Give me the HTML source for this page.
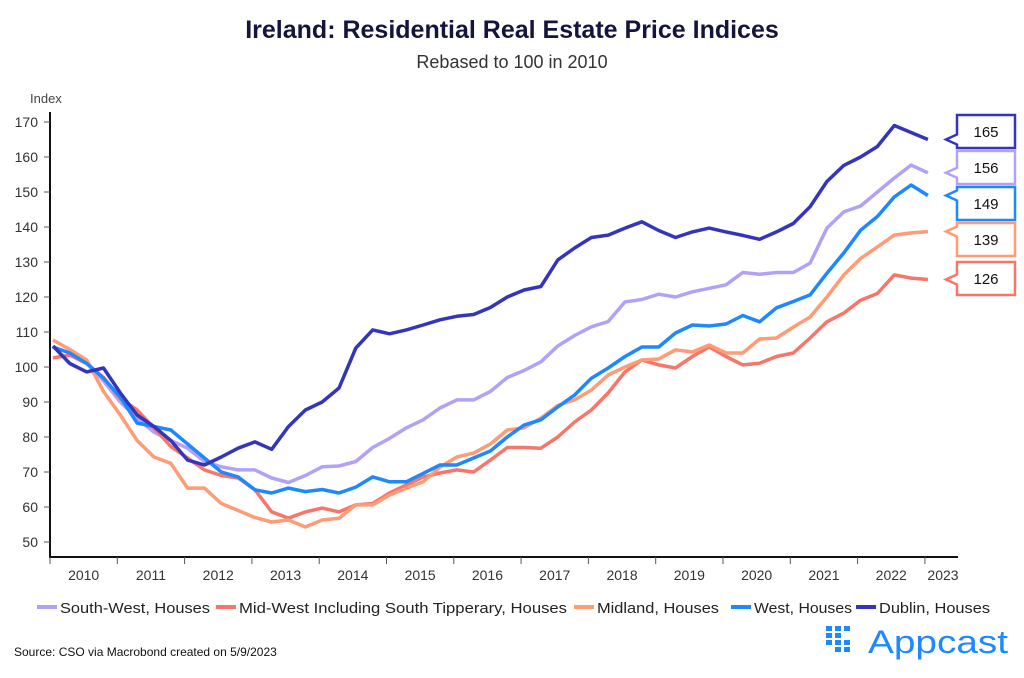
<!DOCTYPE html>
<html><head><meta charset="utf-8"><style>
body{margin:0;background:#fff;width:1024px;height:673px;overflow:hidden;font-family:"Liberation Sans",sans-serif}
svg text{font-family:"Liberation Sans",sans-serif}
</style></head><body>
<svg id="c" width="1024" height="673">
<text x="512" y="38" text-anchor="middle" font-size="25" font-weight="bold" fill="#14143c">Ireland: Residential Real Estate Price Indices</text>
<text x="512" y="68" text-anchor="middle" font-size="18" fill="#333">Rebased to 100 in 2010</text>
<text x="30" y="103" font-size="13" fill="#444">Index</text>
<g id="axes"></g><g id="series"></g><g id="tags"></g>
<g font-size="15" fill="#222" id="legend"></g>
<text x="14" y="656" font-size="12" fill="#111">Source: CSO via Macrobond created on 5/9/2023</text>
<g>
<g fill="#1E88FF" id="dots"></g>
<text x="868" y="653" font-size="32" fill="#1E88FF" textLength="140" lengthAdjust="spacingAndGlyphs">Appcast</text>
</g>
</svg>
<script>
const years=["2010","2011","2012","2013","2014","2015","2016","2017","2018","2019","2020","2021","2022","2023"];
const yTicks=[50,60,70,80,90,100,110,120,130,140,150,160,170];
const names=["South-West, Houses","Mid-West Including South Tipperary, Houses","Midland, Houses","West, Houses","Dublin, Houses"];
const colors=["#B3A1F7","#F7766A","#FF9B75","#1E88FF","#3535BB"];
const southWest=[105.7,104,101.5,96,90,85.4,81.4,79,76.8,73,71.5,70.6,70.6,68.3,67,69,71.5,71.7,73,77,79.6,82.6,84.9,88.3,90.6,90.6,93,97,99,101.5,106,109,111.5,113,118.6,119.3,120.8,120,121.5,122.5,123.5,127,126.5,127,127,129.7,139.7,144.3,146,150,154,157.7,155.5];
const midWest=[102.6,103.4,101,97,91,87.7,82.6,77.3,74,70.6,69,68.3,64.9,58.6,56.8,58.6,59.7,58.6,60.6,61,64,66.3,68.6,69.7,70.6,70,73.4,77,77,76.8,80,84.3,87.7,92.6,98.6,102,100.6,99.7,103,105.7,103,100.6,101.1,103,104,108.3,112.9,115.4,119.1,121,126.3,125.4,125];
const midland=[107.7,105,102,93,86.3,79,74.3,72.5,65.4,65.4,61,59,57,55.7,56.3,54.3,56.3,56.8,60.6,60.6,63.4,65.4,67.2,71.4,74.3,75.4,78,82,82.6,85.4,89,90.6,93.4,97.7,100,102,102.3,104.9,104.3,106.3,104,104,108,108.3,111.4,114.3,120,126.3,131,134.3,137.7,138.3,138.7];
const west=[105.7,104,101,96.8,91.4,84,83,82,78,74,70,68.6,64.9,64,65.4,64.4,65,64,65.7,68.6,67.2,67.2,69.6,72,72,74,76,80,83.4,84.9,88.6,92,96.8,99.7,103,105.7,105.7,109.7,112,111.7,112.3,114.7,112.9,116.9,118.7,120.6,126.8,132.6,139.1,143,148.6,152,149];
const dublin=[106,101,98.6,99.7,92.6,86.3,83,79,73.4,72,74.3,76.8,78.6,76.5,83,87.7,90,94,105.4,110.6,109.5,110.6,112,113.5,114.5,115,117,120,122,123,130.6,134,137,137.7,139.7,141.5,139,137,138.6,139.7,138.6,137.6,136.5,138.6,141,145.8,153,157.6,160,163,169,167,165];
const latest=["165","156","149","139","126"];
const NS="http://www.w3.org/2000/svg";
const X0=50,YW=67.3;
function xq(i){return X0+3+i*0.25*YW;}
function y(v){return 542-(v-50)*3.5;}
function mk(t,a,p){const e=document.createElementNS(NS,t);for(const k in a)e.setAttribute(k,a[k]);p.appendChild(e);return e;}
const ax=document.getElementById('axes');
const yl=mk('line',{x1:50,y1:112,x2:50,y2:557,stroke:'#111','stroke-width':2},ax);


const xl=mk('line',{x1:49,y1:557,x2:958,y2:557,stroke:'#111','stroke-width':2},ax);


yTicks.forEach(v=>{mk('line',{x1:44,y1:y(v),x2:50,y2:y(v),stroke:'#555'},ax);
const t=mk('text',{x:38,y:y(v)+5,'text-anchor':'end','font-size':14,fill:'#333'},ax);t.textContent=v;

});
years.forEach((yr,i)=>{const x=X0+i*YW;mk('line',{x1:x,y1:557,x2:x,y2:564,stroke:'#555'},ax);
const t=mk('text',{x:Math.min(x+YW/2,943),y:580,'text-anchor':'middle','font-size':14,fill:'#333'},ax);t.textContent=yr;

});
const data=[southWest,midWest,midland,west,dublin];
const sg=document.getElementById('series');
data.forEach((d,k)=>{const p=mk('polyline',{points:d.map((v,i)=>xq(i).toFixed(1)+','+y(v).toFixed(1)).join(' '),fill:'none',stroke:colors[k],'stroke-width':3.5,'stroke-linejoin':'round'},sg);

});
const tg=document.getElementById('tags');
const order=[4,0,3,2,1],boxY=[115,151,187,223,262];
order.forEach((k,j)=>{const d=data[k],vy=y(d[d.length-1]);const by=boxY[j],bh=33;
const g=mk('g',{},tg);


const ty=Math.min(Math.max(vy,by+6),by+bh-6);
mk('path',{d:`M957,${by} H1015 V${by+bh} H957 V${ty+5} L946,${ty} L957,${ty-5} Z`,fill:'#fff',stroke:colors[k],'stroke-width':2.5},g);
const t=mk('text',{x:986,y:by+22,'text-anchor':'middle','font-size':15,fill:'#111'},g);t.textContent=latest[j];});
const lg=document.getElementById('legend');
const lx=[37,216,574,731,856],lw=[150,328,122,98,111];
names.forEach((n,k)=>{const g=mk('g',{},lg);


mk('line',{x1:lx[k],y1:607,x2:lx[k]+20,y2:607,stroke:colors[k],'stroke-width':4},g);
const t=mk('text',{x:lx[k]+23,y:613,textLength:lw[k],lengthAdjust:'spacingAndGlyphs'},g);t.textContent=n;});
const dg=document.getElementById('dots');
[[0,0],[1,0],[2,0],[0,1],[1,1],[0,2],[1,2],[2,2],[1,3],[2,3]].forEach(([c,r])=>mk('rect',{x:826+c*9,y:626+r*7,width:6,height:5},dg));
</script>
</body></html>
